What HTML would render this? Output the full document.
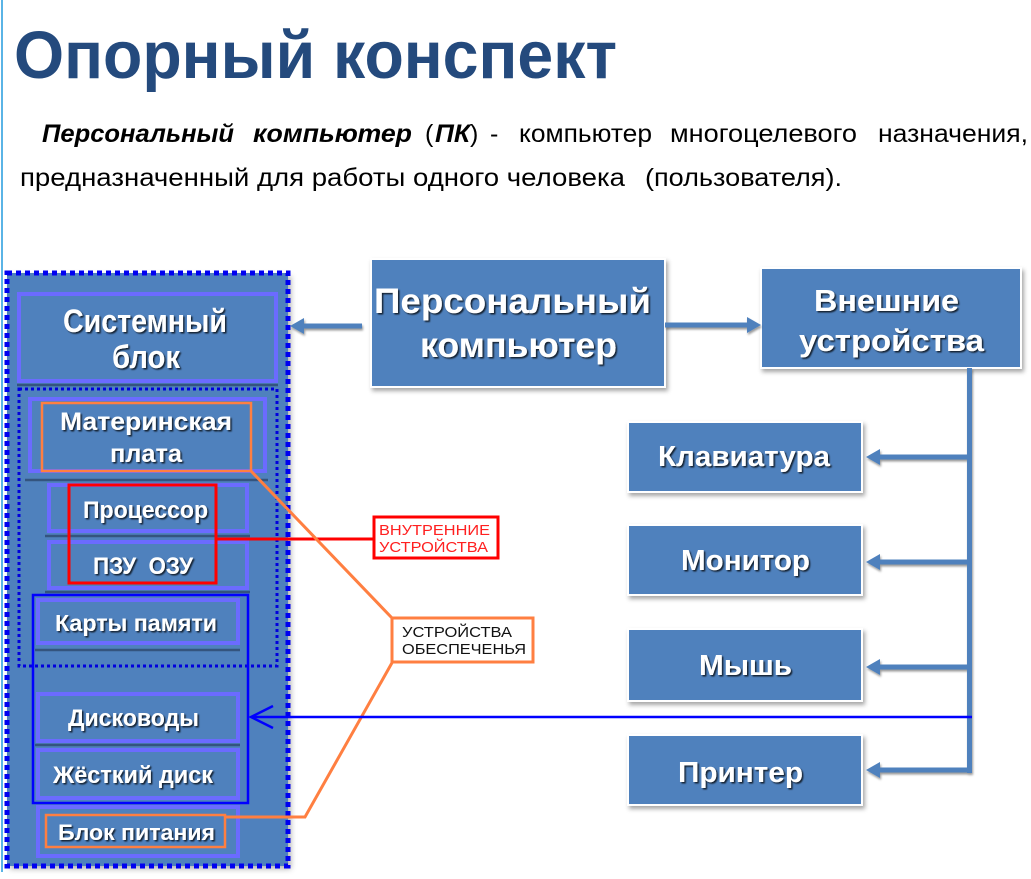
<!DOCTYPE html>
<html><head><meta charset="utf-8"><style>
html,body{margin:0;padding:0;background:#fff;}
svg{display:block;}
</style></head><body>
<svg width="1031" height="879" viewBox="0 0 1031 879" xmlns="http://www.w3.org/2000/svg" font-family="'Liberation Sans','DejaVu Sans',sans-serif">
<defs>
<filter id="sh" x="-10%" y="-10%" width="130%" height="140%"><feDropShadow dx="2" dy="3" stdDeviation="2" flood-color="#000" flood-opacity="0.35"/></filter>
<filter id="sh2" x="-5%" y="-5%" width="115%" height="115%"><feDropShadow dx="3" dy="3" stdDeviation="3" flood-color="#000" flood-opacity="0.3"/></filter>
<filter id="ash" x="-10%" y="-50%" width="130%" height="250%"><feDropShadow dx="1" dy="2" stdDeviation="1" flood-color="#000" flood-opacity="0.4"/></filter>
<filter id="ts" x="-10%" y="-30%" width="130%" height="170%"><feDropShadow dx="1.5" dy="1.5" stdDeviation="0.8" flood-color="#000" flood-opacity="0.75"/></filter>
</defs>

<!-- left edge line -->
<rect x="1" y="0" width="2" height="872" fill="#5ab4e6"/>

<!-- title -->
<text x="14" y="78" font-size="67" font-weight="bold" fill="#244a7d" textLength="603" lengthAdjust="spacingAndGlyphs">Опорный конспект</text>

<!-- paragraph -->
<g font-size="25" fill="#000">
<text x="42" y="142" font-weight="bold" font-style="italic" textLength="192" lengthAdjust="spacingAndGlyphs">Персональный</text>
<text x="253" y="142" font-weight="bold" font-style="italic" textLength="159" lengthAdjust="spacingAndGlyphs">компьютер</text>
<text x="425" y="142">(</text>
<text x="435" y="142" font-weight="bold" font-style="italic" textLength="35" lengthAdjust="spacingAndGlyphs">ПК</text>
<text x="470" y="142">)</text>
<text x="490" y="142">-</text>
<text x="519" y="142" textLength="133" lengthAdjust="spacingAndGlyphs">компьютер</text>
<text x="670" y="142" textLength="187" lengthAdjust="spacingAndGlyphs">многоцелевого</text>
<text x="878" y="142" textLength="150" lengthAdjust="spacingAndGlyphs">назначения,</text>
<text x="20" y="186" textLength="605" lengthAdjust="spacingAndGlyphs">предназначенный для работы одного человека</text>
<text x="645" y="186" textLength="197" lengthAdjust="spacingAndGlyphs">(пользователя).</text>
</g>

<!-- LEFT PANEL -->
<rect x="7" y="273" width="281" height="593" fill="#4f81bd" filter="url(#sh2)"/>
<rect x="7" y="273" width="281" height="593" fill="none" stroke="#0000f0" stroke-width="5" stroke-dasharray="5 4"/>

<g fill="#4f81bd" stroke="#6b6bff" stroke-width="4">
<rect x="19" y="294" width="257" height="87"/>
<rect x="30" y="399" width="235" height="72"/>
<rect x="49" y="485" width="198" height="46"/>
<rect x="49" y="542" width="198" height="46"/>
<rect x="38" y="600" width="200" height="43"/>
<rect x="38" y="694" width="200" height="47"/>
<rect x="38" y="750" width="200" height="48"/>
<rect x="38" y="807" width="200" height="49"/>
</g>
<g stroke="#34547e" stroke-width="2.5">
<line x1="17" y1="385" x2="278" y2="385"/>
<line x1="25" y1="480" x2="268" y2="480"/>
<line x1="45" y1="536" x2="250" y2="536"/>
<line x1="45" y1="592" x2="250" y2="592"/>
<line x1="35" y1="650" x2="240" y2="650"/>
<line x1="35" y1="745" x2="240" y2="745"/>
</g>
<rect x="19" y="389" width="258" height="277" fill="none" stroke="#0000dd" stroke-width="3" stroke-dasharray="3 3"/>

<!-- left texts -->
<g fill="#fff" font-weight="bold" filter="url(#ts)">
<text x="63" y="332" font-size="32" textLength="164" lengthAdjust="spacingAndGlyphs">Системный</text>
<text x="112" y="368" font-size="32" textLength="68" lengthAdjust="spacingAndGlyphs">блок</text>
<text x="60" y="430" font-size="25" textLength="172" lengthAdjust="spacingAndGlyphs">Материнская</text>
<text x="110" y="462" font-size="25" textLength="72" lengthAdjust="spacingAndGlyphs">плата</text>
<text x="83" y="518" font-size="24" textLength="125" lengthAdjust="spacingAndGlyphs">Процессор</text>
<text x="93" y="574" font-size="24" textLength="100" lengthAdjust="spacingAndGlyphs">ПЗУ&#160; ОЗУ</text>
<text x="55" y="631" font-size="23" textLength="162" lengthAdjust="spacingAndGlyphs">Карты памяти</text>
<text x="68" y="726" font-size="24" textLength="131" lengthAdjust="spacingAndGlyphs">Дисководы</text>
<text x="53" y="783" font-size="24" textLength="160" lengthAdjust="spacingAndGlyphs">Жёсткий диск</text>
<text x="58" y="840" font-size="22" textLength="157" lengthAdjust="spacingAndGlyphs">Блок питания</text>
</g>

<!-- highlight rects -->
<rect x="42" y="403" width="209" height="68" fill="none" stroke="#ff7f41" stroke-width="2.5"/>
<rect x="46" y="815" width="179" height="32" fill="none" stroke="#ff7f41" stroke-width="2.5"/>
<rect x="69" y="485" width="147" height="98" fill="none" stroke="#ff0000" stroke-width="3"/>
<rect x="33" y="595" width="215" height="208" fill="none" stroke="#0000ff" stroke-width="2.5"/>

<!-- red connector + label -->
<line x1="216" y1="539" x2="374" y2="539" stroke="#ff0000" stroke-width="3"/>
<rect x="374" y="517" width="124" height="41" fill="#fff" stroke="#ff0000" stroke-width="3"/>
<text x="379" y="535" font-size="15" fill="#ff2020" textLength="111" lengthAdjust="spacingAndGlyphs">ВНУТРЕННИЕ</text>
<text x="379" y="552" font-size="15" fill="#ff2020" textLength="109" lengthAdjust="spacingAndGlyphs">УСТРОЙСТВА</text>

<!-- orange connectors + label -->
<polyline points="251,471 392,618" fill="none" stroke="#ff7f41" stroke-width="3"/>
<polyline points="393,661 305,817 225,817" fill="none" stroke="#ff7f41" stroke-width="3"/>
<rect x="392" y="618" width="141" height="44" fill="#fff" stroke="#ff7f41" stroke-width="3"/>
<text x="402" y="637" font-size="15" fill="#111" textLength="110" lengthAdjust="spacingAndGlyphs">УСТРОЙСТВА</text>
<text x="402" y="654" font-size="15" fill="#111" textLength="124" lengthAdjust="spacingAndGlyphs">ОБЕСПЕЧЕНЬЯ</text>

<!-- RIGHT BOXES -->
<g fill="#4f81bd" stroke="#fff" stroke-width="2" filter="url(#sh)">
<rect x="371" y="259" width="294" height="128"/>
<rect x="761" y="268" width="260" height="100"/>
<rect x="628" y="422" width="234" height="70"/>
<rect x="628" y="525" width="234" height="70"/>
<rect x="628" y="629" width="234" height="72"/>
<rect x="628" y="735" width="234" height="70"/>
</g>

<!-- steel-blue arrows -->
<g fill="#4f81bd" filter="url(#ash)">
<rect x="967" y="368" width="5" height="405"/>
<rect x="302" y="323.5" width="60" height="5"/>
<polygon points="290,326 304,318 304,334"/>
<rect x="665" y="322.5" width="83" height="5"/>
<polygon points="761,325 747,317 747,333"/>
<rect x="878" y="454.5" width="91" height="5"/>
<polygon points="866,457 880,449 880,465"/>
<rect x="878" y="559.5" width="91" height="5"/>
<polygon points="866,562 880,554 880,570"/>
<rect x="878" y="664.5" width="91" height="5"/>
<polygon points="866,667 880,659 880,675"/>
<rect x="878" y="767.5" width="94" height="5"/>
<polygon points="866,770 880,762 880,778"/>
</g>

<!-- right texts -->
<g fill="#fff" font-weight="bold" filter="url(#ts)">
<text x="374" y="313" font-size="35" textLength="277" lengthAdjust="spacingAndGlyphs">Персональный</text>
<text x="420" y="357" font-size="35" textLength="197" lengthAdjust="spacingAndGlyphs">компьютер</text>
<text x="814" y="311" font-size="31" textLength="145" lengthAdjust="spacingAndGlyphs">Внешние</text>
<text x="799" y="351" font-size="31" textLength="185" lengthAdjust="spacingAndGlyphs">устройства</text>
<text x="658" y="466" font-size="29" textLength="172" lengthAdjust="spacingAndGlyphs">Клавиатура</text>
<text x="681" y="570" font-size="29" textLength="129" lengthAdjust="spacingAndGlyphs">Монитор</text>
<text x="699" y="675" font-size="29" textLength="93" lengthAdjust="spacingAndGlyphs">Мышь</text>
<text x="678" y="782" font-size="29" textLength="125" lengthAdjust="spacingAndGlyphs">Принтер</text>
</g>

<!-- blue pointer line -->
<line x1="972" y1="717" x2="251" y2="717" stroke="#0000ff" stroke-width="2.5"/>
<polyline points="273,706 251,717 273,728" fill="none" stroke="#0000ff" stroke-width="2.5"/>
</svg>
</body></html>
